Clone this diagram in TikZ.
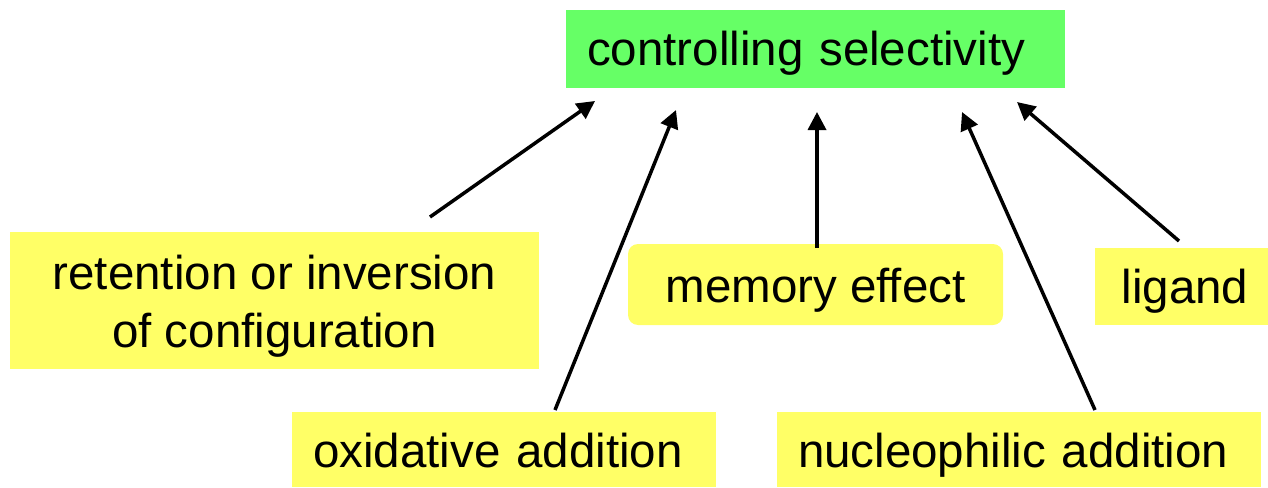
\documentclass[tikz,border=0pt]{standalone}
\usepackage{fontspec}
\setmainfont{Liberation Sans}
\usetikzlibrary{arrows.meta}
\definecolor{selgreen}{HTML}{66FF66}
\definecolor{boxyellow}{HTML}{FFFF66}

\begin{document}
\begin{tikzpicture}[x=1pt,y=-1pt,
  font=\fontsize{47.5}{58}\selectfont,
  every node/.style={inner sep=0pt,outer sep=0pt,text height=44pt,text depth=9pt},
  box/.style={fill=boxyellow,minimum height=77pt},
  lbox/.style={box,align=left,anchor=west,inner xsep=21pt},
  arr/.style={line width=3.5pt,-{Triangle[length=18pt,width=18pt]}}]
\useasboundingbox (0,0) rectangle (1268,487);
% boxes
\node[lbox,fill=selgreen,minimum height=78pt,text width=457pt,text height=42pt] (sel) at (566,49) {controlling selectivity};
\node[box,align=center,minimum width=529pt,minimum height=137pt,text height=102pt] (ret) at (274.5,300.5) {retention or inversion\\of configuration};
\node[box,rounded corners=10pt,minimum width=375pt,minimum height=81pt] (mem) at (815.5,284.5) {memory effect};
\node[box,minimum width=180pt,text height=42pt] (lig) at (1185,286.5) {ligand};
\node[lbox,minimum height=75pt,text width=382pt] (oxi) at (292,449.5) {oxidative addition};
\node[lbox,minimum height=75pt,text width=442pt] (nuc) at (777,449.5) {nucleophilic addition};
% arrows
\draw[arr] ([xshift=155.5pt,yshift=15pt]ret.north) -- ([xshift=-220.5pt,yshift=-13pt]sel.south);
\draw[arr] ([xshift=51pt,yshift=2pt]oxi.north) -- ([xshift=-139.5pt,yshift=-22pt]sel.south);
\draw[arr] ([xshift=1.5pt,yshift=-4pt]mem.north) -- ([xshift=1.5pt,yshift=-24pt]sel.south);
\draw[arr] ([xshift=76pt,yshift=2pt]nuc.north) -- ([xshift=146.5pt,yshift=-24pt]sel.south);
\draw[arr] ([xshift=-6pt,yshift=7pt]lig.north) -- ([xshift=201.5pt,yshift=-14pt]sel.south);
\end{tikzpicture}
\end{document}
